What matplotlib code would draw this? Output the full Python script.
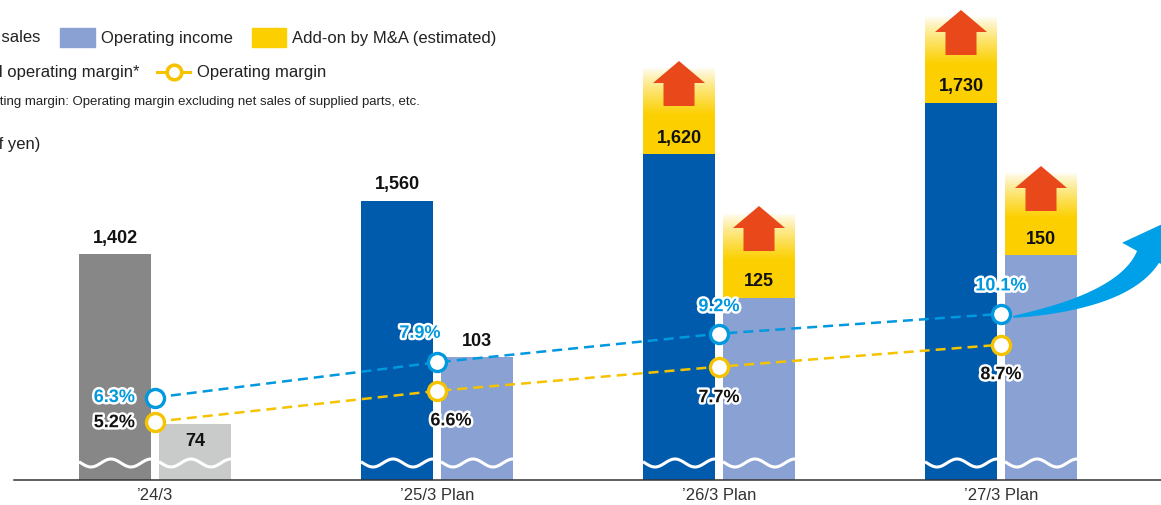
import numpy as np
import matplotlib
matplotlib.use("Agg")
import matplotlib.pyplot as plt
import matplotlib.patheffects as pe
from matplotlib.lines import Line2D
from matplotlib.patches import Rectangle, Polygon

plt.rcParams['font.family'] = ['Liberation Sans', 'DejaVu Sans']

# ---------------------------------------------
# DATA
# ---------------------------------------------
categories = ["’24/3", "’25/3 Plan", "’26/3 Plan", "’27/3 Plan"]
net_sales = [1402, 1560, 1620, 1730]      # billions of yen
op_income = [74, 103, 125, 150]
adj_margin = [6.3, 7.9, 9.2, 10.1]        # substantial operating margin (%)
op_margin = [5.2, 6.6, 7.7, 8.7]          # operating margin (%)

# bar heights on the broken (wavy) scale, as drawn in the picture
sales_height = [226, 279, 326, 377]
income_height = [56, 123, 182, 225]
addon_sales = [0, 0, 86, 86]
addon_income = [0, 0, 85, 82]

# ---------------------------------------------
# STYLE
# ---------------------------------------------
gray_dark = "#878787"
gray_light = "#C9CACA"
blue_dark = "#005BAC"
blue_light = "#8AA2D3"
yellow = "#FCD000"
orange = "#E9481A"
line_blue = "#0098DE"
line_yellow = "#F5C300"
arrow_blue = "#00A0E9"
text_col = "#222222"

W, H = 1161, 505
step = 282.0            # px between groups
bw = 72 / step          # bar width
off = 40 / step         # bar offset from group centre

fig = plt.figure(figsize=(W / 100, H / 100), dpi=100)
ax = fig.add_axes([0, 25 / H, 1, 480 / H])

x = np.arange(len(categories))
sales_colors = [gray_dark, blue_dark, blue_dark, blue_dark]
income_colors = [gray_light, blue_light, blue_light, blue_light]

ax.bar(x - off, sales_height, bw, color=sales_colors, zorder=2)
ax.bar(x + off, income_height, bw, color=income_colors, zorder=2)

# add-on by M&A: solid yellow then fade to white, with red up-arrow
def addon(xc, base, h):
    if h <= 0:
        return
    solid = h * 0.45
    ax.bar(xc, solid, bw, bottom=base, color=yellow, zorder=2)
    grad = np.zeros((100, 1, 4))
    grad[:, 0, :3] = matplotlib.colors.to_rgb(yellow)
    grad[:, 0, 3] = np.linspace(1, 0, 100) ** 0.8
    ax.imshow(grad, extent=[xc - bw / 2, xc + bw / 2, base + solid, base + h],
              origin='lower', aspect='auto', interpolation='bilinear', zorder=2)
    tip = base + h + 7
    hw, sw = 26 / step, 15.5 / step
    pts = [(xc, tip), (xc + hw, tip - 22), (xc + sw, tip - 22), (xc + sw, tip - 45),
           (xc - sw, tip - 45), (xc - sw, tip - 22), (xc - hw, tip - 22)]
    ax.add_patch(Polygon(pts, closed=True, color=orange, lw=0, zorder=3))

for i in x:
    addon(i - off, sales_height[i], addon_sales[i])
    addon(i + off, income_height[i], addon_income[i])

# wavy break marks
for i in x:
    for xc in [i - off, i + off]:
        xs = np.linspace(xc - bw / 2, xc + bw / 2, 80)
        ys = 17 + 4 * np.sin(2 * np.pi * (xs - xs[0]) * step / 40 + np.pi * 0.9)
        ax.plot(xs, ys, color='white', lw=2.2, zorder=3, solid_capstyle='butt')

# value labels
lbl = dict(ha='center', va='center', fontsize=13, fontweight='bold', color='#111111', zorder=4)
for i in x:
    ax.text(i - off, sales_height[i] + 16, f"{net_sales[i]:,}", **lbl)
    y_inc = income_height[i] - 18 if income_height[i] < 60 else income_height[i] + 16
    ax.text(i + off, y_inc, f"{op_income[i]:,}", **lbl)

ax.set_xlim(-155 / step, (W - 155) / step)
ax.set_ylim(0, 480)
for s in ['top', 'right', 'left']:
    ax.spines[s].set_visible(False)
ax.spines['bottom'].set_color('#333333')
ax.spines['bottom'].set_linewidth(1.1)
ax.spines['bottom'].set_bounds(-141 / step, (W - 155) / step)
ax.set_yticks([])
ax.set_xticks(x)
ax.set_xticklabels(categories, fontsize=12, color='#333333')
ax.tick_params(axis='x', length=0, pad=6)

# margins on their own scale
ax2 = ax.twinx()
ax2.set_ylim(2.55, 2.55 + 480 / 22)
ax2.axis('off')

ax2.plot(x, adj_margin, color=line_blue, lw=1.8, ls=(0, (4, 2.4)), marker='o', ms=13,
         mfc='white', mec=line_blue, mew=2.4, zorder=5)
ax2.plot(x, op_margin, color=line_yellow, lw=1.8, ls=(0, (4, 2.4)), marker='o', ms=13,
         mfc='white', mec=line_yellow, mew=2.4, zorder=5)

stroke = [pe.withStroke(linewidth=3.5, foreground='white')]
adj_pos = [(-20, 0, 'right'), (-17, 29, 'center'), (0, 27, 'center'), (0, 28, 'center')]
op_pos = [(-20, -1, 'right'), (14, -30, 'center'), (0, -31, 'center'), (0, -30, 'center')]
for i in x:
    dx, dy, ha = adj_pos[i]
    ax2.annotate(f"{adj_margin[i]}%", (i, adj_margin[i]), xytext=(dx * 0.72, dy * 0.72),
                 textcoords='offset points', ha=ha, va='center', fontsize=13, fontweight='bold',
                 color=line_blue, path_effects=stroke, zorder=6)
    dx, dy, ha = op_pos[i]
    ax2.annotate(f"{op_margin[i]}%", (i, op_margin[i]), xytext=(dx * 0.72, dy * 0.72),
                 textcoords='offset points', ha=ha, va='center', fontsize=13, fontweight='bold',
                 color='#111111', path_effects=stroke, zorder=6)

# big curved arrow after the last point (pixel offsets right/up, then mapped)
cx = x[-1]
cy = (adj_margin[-1] - 2.55) * 22     # height units of ax
P0, P1, P2 = np.array([12., -3.]), np.array([123., 13.]), np.array([147., 57.])
t = np.linspace(0, 1, 80)[:, None]
curve = (1 - t) ** 2 * P0 + 2 * (1 - t) * t * P1 + t ** 2 * P2
tang = 2 * (1 - t) * (P1 - P0) + 2 * t * (P2 - P1)
tang /= np.linalg.norm(tang, axis=1)[:, None]
nrm = np.column_stack([-tang[:, 1], tang[:, 0]])
half = (0.8 + 11.7 * t[:, 0] ** 0.8)[:, None]
upper = curve + nrm * half
lower = curve - nrm * half
tp, nt = tang[-1], nrm[-1]
tip = P2 + tp * 40
barb1 = P2 + nt * 29.5
barb2 = P2 - nt * 29.5
pts = np.vstack([upper, [barb1, tip, barb2], lower[::-1]])
ax.add_patch(Polygon(np.column_stack([cx + pts[:, 0] / step, cy + pts[:, 1]]),
                     closed=True, color=arrow_blue, lw=0, zorder=4))

# ---------------------------------------------
# LEGEND / NOTES (partly cut at the left edge)
# ---------------------------------------------
def ftext(xp, yp, s, **kw):
    kw.setdefault('va', 'center')
    kw.setdefault('fontsize', 12)
    kw.setdefault('color', text_col)
    fig.text(xp / W, 1 - yp / H, s, **kw)

ftext(40, 38, "Net sales", ha='right')
fig.patches.append(Rectangle((60 / W, 1 - 47 / H), 35 / W, 19 / H, transform=fig.transFigure,
                             color=blue_light))
ftext(101, 38, "Operating income")
fig.patches.append(Rectangle((252 / W, 1 - 47 / H), 34 / W, 19 / H, transform=fig.transFigure,
                             color=yellow))
ftext(292, 38, "Add-on by M&A (estimated)")

ftext(139, 72, "Substantial operating margin*", ha='right')
fig.lines.append(Line2D([157 / W, 190 / W], [1 - 72 / H] * 2, color=line_yellow, lw=2.2,
                        transform=fig.transFigure))
fig.lines.append(Line2D([173.5 / W], [1 - 72 / H], marker='o', ms=10.5, mfc='white',
                        mec=line_yellow, mew=2.6, transform=fig.transFigure))
ftext(197, 72, "Operating margin")
ftext(420, 102, "*Substantial operating margin: Operating margin excluding net sales of supplied parts, etc.",
      ha='right', fontsize=9.55)
ftext(40, 144, "(Billions of yen)", ha='right')

fig.savefig("out.png", dpi=100)
